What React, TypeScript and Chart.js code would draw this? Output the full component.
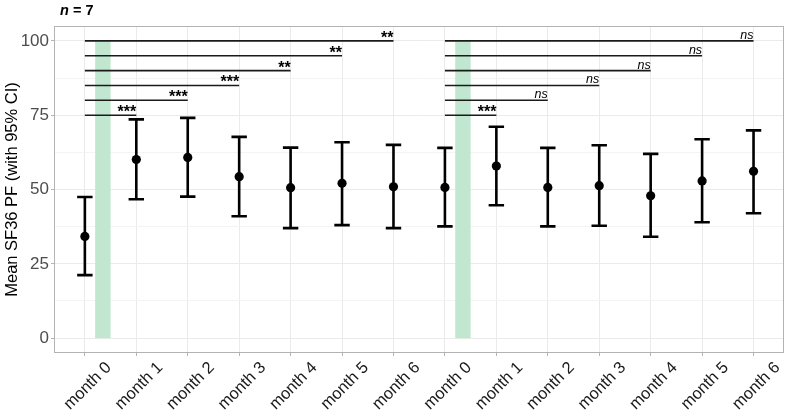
import React, { useEffect, useRef } from "react";
import { Chart, registerables } from "chart.js";

Chart.register(...registerables);

const monthLabels = ["month 0", "month 1", "month 2", "month 3", "month 4", "month 5", "month 6"];
const categories = [...monthLabels, ...monthLabels];

const means1 = [34.2, 60.1, 60.8, 54.3, 50.6, 52.1, 50.9];
const lower1 = [21.2, 46.7, 47.6, 41.0, 37.0, 38.0, 37.0];
const upper1 = [47.5, 73.6, 74.1, 67.7, 64.1, 65.9, 65.0];

const means2 = [50.7, 57.9, 50.7, 51.3, 47.9, 52.9, 56.1];
const lower2 = [37.6, 44.7, 37.6, 37.8, 34.1, 39.0, 42.0];
const upper2 = [64.0, 71.1, 64.0, 64.9, 62.0, 66.9, 69.9];

const bracketLevels = [75, 80, 85, 90, 95, 100];
const signif1 = ["***", "***", "***", "**", "**", "**"];
const signif2 = ["***", "ns", "ns", "ns", "ns", "ns"];

const yTicks = [0, 12.5, 25, 37.5, 50, 62.5, 75, 87.5, 100];
const bandStart = 0.2;
const bandEnd = 0.5;
const bandTop = 100;

const allMeans = [...means1, ...means2];
const allLower = [...lower1, ...lower2];
const allUpper = [...upper1, ...upper2];

const FONT = "'Liberation Sans', Arial, Helvetica, sans-serif";

const overlayPlugin = {
  id: "overlay",
  beforeDatasetsDraw(chart: any) {
    const { ctx, chartArea, scales } = chart;
    const xs = scales.x;
    const ys = scales.y;
    ctx.save();
    ctx.beginPath();
    ctx.rect(chartArea.left, chartArea.top, chartArea.right - chartArea.left, chartArea.bottom - chartArea.top);
    ctx.clip();
    ctx.fillStyle = "rgb(193,231,208)";
    [0, 7].forEach((off) => {
      const x0 = xs.getPixelForValue(off + bandStart);
      const x1 = xs.getPixelForValue(off + bandEnd);
      const y0 = ys.getPixelForValue(0);
      const y1 = ys.getPixelForValue(bandTop);
      ctx.fillRect(x0, y1, x1 - x0, y0 - y1);
    });
    const drawBrackets = (off: number, signif: string[]) => {
      bracketLevels.forEach((lvl, k) => {
        const xa = xs.getPixelForValue(off);
        const xb = xs.getPixelForValue(off + k + 1);
        const yy = ys.getPixelForValue(lvl);
        ctx.strokeStyle = "#1a1a1a";
        ctx.lineWidth = 1.6;
        ctx.beginPath();
        ctx.moveTo(xa, yy);
        ctx.lineTo(xb, yy);
        ctx.stroke();
        const lab = signif[k];
        ctx.fillStyle = "#000";
        ctx.textAlign = "right";
        ctx.textBaseline = "alphabetic";
        if (lab === "ns") {
          ctx.font = `italic 12.5px ${FONT}`;
          ctx.fillText(lab, xb, yy - 2);
        } else {
          ctx.font = `bold 16px ${FONT}`;
          ctx.fillText(lab, xb, yy + 2);
        }
      });
    };
    drawBrackets(0, signif1);
    drawBrackets(7, signif2);
    ctx.restore();

    ctx.save();
    ctx.strokeStyle = "#000";
    ctx.lineWidth = 2.6;
    ctx.lineCap = "butt";
    allMeans.forEach((_, i) => {
      const x = xs.getPixelForValue(i);
      const xl = xs.getPixelForValue(i - 0.15);
      const xr = xs.getPixelForValue(i + 0.15);
      const yl = ys.getPixelForValue(allLower[i]);
      const yu = ys.getPixelForValue(allUpper[i]);
      ctx.beginPath();
      ctx.moveTo(x, yl);
      ctx.lineTo(x, yu);
      ctx.moveTo(xl, yl);
      ctx.lineTo(xr, yl);
      ctx.moveTo(xl, yu);
      ctx.lineTo(xr, yu);
      ctx.stroke();
    });
    ctx.restore();
  },
  afterDraw(chart: any) {
    const { ctx, chartArea } = chart;
    ctx.save();
    ctx.strokeStyle = "#b3b3b3";
    ctx.lineWidth = 1;
    ctx.strokeRect(
      Math.round(chartArea.left) + 0.5,
      Math.round(chartArea.top) + 0.5,
      Math.round(chartArea.right - chartArea.left) - 1,
      Math.round(chartArea.bottom - chartArea.top) - 1
    );
    ctx.fillStyle = "#000";
    ctx.textBaseline = "alphabetic";
    ctx.textAlign = "left";
    ctx.font = `bold italic 14.5px ${FONT}`;
    const nW = ctx.measureText("n").width;
    ctx.fillText("n", 60, 15);
    ctx.font = `bold 14.5px ${FONT}`;
    ctx.fillText(" = 7", 60 + nW, 15);
    ctx.restore();
  },
};

export default function App() {
  const canvasRef = useRef<HTMLCanvasElement | null>(null);

  useEffect(() => {
    if (!canvasRef.current) return;
    const chart = new Chart(canvasRef.current, {
      type: "scatter",
      data: {
        datasets: [
          {
            label: "mean",
            data: allMeans.map((v, i) => ({ x: i, y: v })),
            backgroundColor: "#000",
            borderColor: "#000",
            pointRadius: 4.6,
            borderWidth: 0,
          },
        ],
      },
      options: {
        animation: false,
        responsive: false,
        maintainAspectRatio: false,
        layout: { padding: { left: 0, top: 26, right: 3, bottom: 0 } },
        plugins: { legend: { display: false }, tooltip: { enabled: false }, title: { display: false } },
        scales: {
          x: {
            type: "linear",
            min: -0.6,
            max: 13.6,
            afterBuildTicks: (axis: any) => {
              axis.ticks = categories.map((_, i) => ({ value: i }));
            },
            afterFit: (scale: any) => {
              scale.height = 59;
            },
            border: { display: false },
            grid: { color: "#ebebeb", lineWidth: 1, tickColor: "#b3b3b3", tickLength: 3, drawTicks: true },
            ticks: {
              autoSkip: false,
              minRotation: 45,
              maxRotation: 45,
              labelOffset: 24,
              padding: 2,
              color: "#1a1a1a",
              font: { family: FONT, size: 16.5 },
              callback: (v: any) => categories[Number(v)] ?? "",
            },
          },
          y: {
            type: "linear",
            min: -5,
            max: 105,
            afterBuildTicks: (axis: any) => {
              axis.ticks = yTicks.map((v) => ({ value: v }));
            },
            afterFit: (scale: any) => {
              scale.width = 54;
            },
            border: { display: false },
            grid: {
              color: (c: any) => (c.tick && c.tick.value % 25 === 0 ? "#ebebeb" : "#f4f4f4"),
              lineWidth: 1,
              tickColor: (c: any) => (c.tick && c.tick.value % 25 === 0 ? "#b3b3b3" : "rgba(0,0,0,0)"),
              tickLength: 3,
              drawTicks: true,
            },
            ticks: {
              autoSkip: false,
              padding: 2,
              color: "#4d4d4d",
              font: { family: FONT, size: 17 },
              callback: (v: any) => (Number(v) % 25 === 0 ? String(v) : ""),
            },
            title: {
              display: true,
              text: "Mean SF36 PF (with 95% CI)",
              color: "#000",
              font: { family: FONT, size: 16.5 },
              padding: { top: 3, bottom: 0 },
            },
          },
        },
      },
      plugins: [overlayPlugin],
    });
    return () => chart.destroy();
  }, []);

  return (
    <div style={{ position: "fixed", left: 0, top: 0, width: 789, height: 412, background: "#fff" }}>
      <canvas ref={canvasRef} width={789} height={412} style={{ width: 789, height: 412, display: "block" }} />
    </div>
  );
}
